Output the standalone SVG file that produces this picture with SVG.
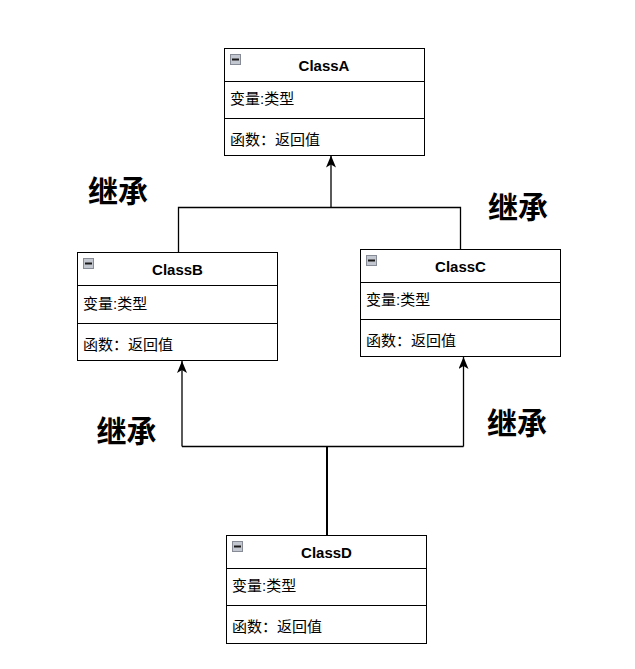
<svg xmlns="http://www.w3.org/2000/svg" width="635" height="669" viewBox="0 0 635 669">
  <defs>
    <style>
      .box { fill: #ffffff; stroke: #000000; stroke-width: 1; }
      .div { stroke: #000000; stroke-width: 1; fill: none; }
      .title { font-family: "Liberation Sans", "Noto Sans CJK SC", sans-serif; font-size: 15px; font-weight: bold; fill: #000000; text-anchor: middle; }
      .row { font-family: "Liberation Sans", "Noto Sans CJK SC", sans-serif; font-size: 15px; fill: #000000; }
      .lbl { font-family: "Liberation Sans", "Noto Sans CJK SC", sans-serif; font-size: 30px; font-weight: bold; fill: #000000; text-anchor: middle; }
      .icon { fill: #c3c7cf; stroke: #868b95; stroke-width: 1; }
      .minus { stroke: #1a1a1a; stroke-width: 2; }
      .edge { fill: none; stroke: #000000; stroke-width: 1.3; }
    </style>
    <marker id="arrow" viewBox="0 0 12 10" refX="12" refY="5" markerWidth="12" markerHeight="10" markerUnits="userSpaceOnUse" orient="auto">
      <path d="M0,0 L12,5 L0,10 L3,5 Z" fill="#000000"/>
    </marker>
  </defs>

  <g id="connectors">
    <path class="edge" d="M178.5 252.5 V207.5 H460.5 V249.5"/>
    <path class="edge" d="M331 207.5 V155.5" marker-end="url(#arrow)"/>
    <path class="edge" d="M327 535.5 V446.5" style="stroke-width:2"/>
    <path class="edge" d="M182 446.5 H463.5"/>
    <path class="edge" d="M182 446.5 V361" marker-end="url(#arrow)"/>
    <path class="edge" d="M463.5 446.5 V357" marker-end="url(#arrow)"/>
  </g>

  <g id="ClassA">
    <rect class="box" x="224.5" y="48.5" width="200" height="107"/>
    <line class="div" x1="224.5" y1="81.5" x2="424.5" y2="81.5"/>
    <line class="div" x1="224.5" y1="118.5" x2="424.5" y2="118.5"/>
    <rect class="icon" x="230.5" y="54.5" width="10" height="10"/>
    <line class="minus" x1="232" y1="59.5" x2="239" y2="59.5"/>
    <text class="title" x="324" y="71">ClassA</text>
    <text class="row" x="230" y="104">变量:类型</text>
    <text class="row" x="230" y="145">函数：返回值</text>
  </g>

  <g id="ClassB">
    <rect class="box" x="77.5" y="252.5" width="200" height="108"/>
    <line class="div" x1="77.5" y1="285.5" x2="277.5" y2="285.5"/>
    <line class="div" x1="77.5" y1="323.5" x2="277.5" y2="323.5"/>
    <rect class="icon" x="83.5" y="258.5" width="10" height="10"/>
    <line class="minus" x1="85" y1="263.5" x2="92" y2="263.5"/>
    <text class="title" x="177.5" y="275">ClassB</text>
    <text class="row" x="83" y="309">变量:类型</text>
    <text class="row" x="83" y="350">函数：返回值</text>
  </g>

  <g id="ClassC">
    <rect class="box" x="360.5" y="249.5" width="200" height="107"/>
    <line class="div" x1="360.5" y1="282.5" x2="560.5" y2="282.5"/>
    <line class="div" x1="360.5" y1="319.5" x2="560.5" y2="319.5"/>
    <rect class="icon" x="366.5" y="255.5" width="10" height="10"/>
    <line class="minus" x1="368" y1="260.5" x2="375" y2="260.5"/>
    <text class="title" x="460.5" y="272">ClassC</text>
    <text class="row" x="366" y="305">变量:类型</text>
    <text class="row" x="366" y="346">函数：返回值</text>
  </g>

  <g id="ClassD">
    <rect class="box" x="226.5" y="535.5" width="200" height="108"/>
    <line class="div" x1="226.5" y1="568.5" x2="426.5" y2="568.5"/>
    <line class="div" x1="226.5" y1="605.5" x2="426.5" y2="605.5"/>
    <rect class="icon" x="232.5" y="541.5" width="10" height="10"/>
    <line class="minus" x1="234" y1="546.5" x2="241" y2="546.5"/>
    <text class="title" x="326.5" y="558">ClassD</text>
    <text class="row" x="232" y="591">变量:类型</text>
    <text class="row" x="232" y="632">函数：返回值</text>
  </g>

  <g id="labels">
    <text class="lbl" x="118" y="202">继承</text>
    <text class="lbl" x="518" y="218">继承</text>
    <text class="lbl" x="126.5" y="442">继承</text>
    <text class="lbl" x="517" y="434">继承</text>
  </g>
</svg>
